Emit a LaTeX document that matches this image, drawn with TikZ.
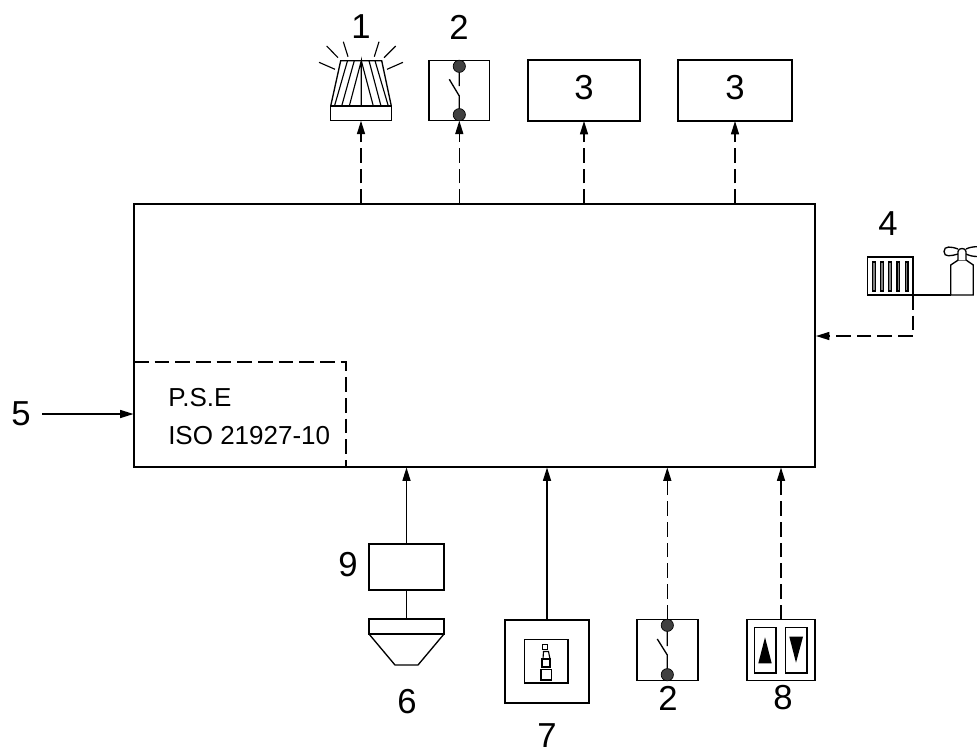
\documentclass[tikz,border=0pt]{standalone}
\usepackage{fontspec}
\setmainfont{Liberation Sans}
\usetikzlibrary{arrows.meta}
\tikzset{
  x=0.75pt,y=-0.75pt,
  line/.style={line width=1pt,line join=miter},
  thin line/.style={line width=0.85pt},
  dashline/.style={line width=1pt,dash pattern=on 11pt off 4.5pt},
  tip/.style={-{Triangle[length=10pt,width=6pt]}},
  box/.style={draw,line width=1pt,inner sep=0pt,outer sep=0pt,minimum width=#1},
  digit/.style={font=\fontsize{26}{26}\selectfont,inner sep=0pt},
  small/.style={font=\fontsize{19.5}{20}\selectfont,inner sep=0pt,anchor=base west},
  dot/.style={circle,fill=black!75,draw=black,line width=0.5pt,minimum size=9.2pt,inner sep=0pt,outer sep=0pt},
}
\begin{document}
\begin{tikzpicture}
\useasboundingbox (0,0) rectangle (977,754);
% main box
\node[box=510.75pt,line width=1.7pt,minimum height=197.25pt] (main) at (474.5,335.5) {};
\coordinate (psetop) at (134,362);
\coordinate (psecorner) at (346,362);
\coordinate (psebot) at (346,467);
\draw[dashline] (psetop) -- (psecorner) -- (psebot);
\node[small] (pse) at (168,406) {P.S.E};
\node[small] (iso) at (168,444) {ISO 21927-10};
% top icons
\node[box=45.5pt,minimum height=11pt] (beacon) at (361,113.4) {};
\draw[line] (330.7,106) -- (340.7,60.7) -- (381.7,60.7) -- (391.3,106);
\draw[thin line] (334.5,106) -- (347.5,60.7) (341.7,106) -- (354.3,60.7) (349.3,106) -- (361.3,60.7) -- (361.3,106)
  (373.3,106) -- (361.3,60.7) (381,106) -- (369,60.7) (388.3,106) -- (375,60.7);
\draw[thin line] (319,62.3) -- (335,69.3) (326.7,46) -- (338,57.7) (343.3,41.7) -- (348,56.7)
  (379,41.7) -- (374.3,56.7) (395.7,46) -- (384,57.7) (403,62.3) -- (387,69.3);
\node[box=45.5pt,minimum height=45pt] (sw1) at (459.3,90.7) {};
\node[dot] (sw1a) at (459.3,66.3) {};
\node[dot] (sw1b) at (459.3,114.7) {};
\draw[line] (sw1a) -- (459.3,86) (449.3,79.3) -- (459.3,96) -- (sw1b);
\node[box=84pt,minimum height=45.75pt] (r1) at (584,90.5) {};
\node[box=85.5pt,minimum height=45.75pt] (r2) at (735,90.5) {};
\node[digit] (n1) at (361,27) {1};
\node[digit] (n2) at (459,27) {2};
\node[digit] at (584,88) (n3a) {3};
\node[digit] at (735,88) (n3b) {3};
\coordinate (m1) at (361,204);
\coordinate (m2) at (459.3,204);
\coordinate (m3) at (584,204);
\coordinate (m4) at (735,204);
\draw[dashline,tip] (m1) -- (beacon.south);
\draw[dashline,tip] (m2) -- (sw1.south);
\draw[dashline,tip] (m3) -- (r1.south);
\draw[dashline,tip] (m4) -- (r2.south);
% right
\node[digit] (n4) at (888,224) {4};
\node[box=34.25pt,minimum height=28.5pt] (rad) at (890.2,276) {};
\foreach \x in {873.8,882,890.2,898.4,906.6}
  \draw[line width=0.8pt,fill=black!50] (\x-1.4,262) rectangle (\x+1.4,291);
\coordinate (radc) at (913,295);
\coordinate (turn) at (913,336);
\coordinate (mr) at (816,336);
\draw[line] (radc) -- (950.7,295);
\draw[line] (950.7,295) -- (950.7,265) -- (958.3,260) -- (966,260) -- (973.3,265) -- (973.3,295) -- cycle;
\draw[line] (958,249) .. controls (951,246.5) and (944,245.5) .. (944,251.5) .. controls (944,257.5) and (951,256) .. (958,254);
\draw[line] (966,249) .. controls (969,247.5) and (973,246.7) .. (977,246.7);
\draw[line] (966,254) .. controls (969,255.5) and (973,256.5) .. (977,256.5);
\draw[line,fill=white] (958,260) -- (958,251.5) .. controls (958,247.5) and (966,247.5) .. (966,251.5) -- (966,260);
\draw[dashline,tip] (radc) -- (turn) -- (mr);
% left
\node[digit] (n5) at (21,414) {5};
\coordinate (ml) at (133.5,414);
\coordinate (ls) at (42,414);
\draw[line,tip] (ls) -- (ml);
% bottom
\coordinate (b1) at (407,467.5);
\coordinate (b2) at (546,467.5);
\coordinate (b3) at (667.3,467.5);
\coordinate (b4) at (781,467.5);
\node[box=56.25pt,minimum height=34.5pt] (nine) at (406.5,567) {};
\node[digit] (n9) at (348,565) {9};
\node[box=56.25pt,minimum height=11.25pt] (head) at (406.5,626.5) {};
\draw[line] (369,634) -- (395,665) -- (418,665) -- (444,634);
\node[digit] (n6) at (407,702) {6};
\draw[line,tip] (nine.north) -- (nine.north |- b1);
\draw[line] (nine.south) -- (head.north);
\node[box=63pt,minimum height=62.25pt] (ctl) at (547,661.5) {};
\node[box=32.75pt,minimum height=32.5pt] (ctlin) at (546.2,661.3) {};
\draw[thin line] (542.5,644.5) rectangle (547.5,649.5);
\draw[thin line] (543,659) -- (543.5,651.5) -- (548.5,651.5) -- (550,659) -- cycle;
\draw[thin line] (542,659) rectangle (550,667);
\draw[thin line] (541,669.5) rectangle (551.5,680);
\node[digit] (n7) at (547,735.5) {7};
\draw[line,tip] (ctl.north) -- (ctl.north |- b2);
\node[box=45.75pt,minimum height=45.75pt] (sw2) at (667.5,649.7) {};
\node[dot] (sw2a) at (667.3,625.3) {};
\node[dot] (sw2b) at (667.3,674.7) {};
\draw[line] (sw2a) -- (667.3,646) (657.3,639) -- (667.3,655) -- (sw2b);
\node[digit] (n2b) at (668,698) {2};
\draw[dashline,tip] (sw2a) -- (b3);
\node[box=51pt,minimum height=45.75pt] (updn) at (781,649.7) {};
\node[box=16.25pt,minimum height=34pt] (up) at (765,650.2) {};
\node[box=16.25pt,minimum height=34pt] (dn) at (796,650.2) {};
\fill (765,637.3) -- (758.3,663.3) -- (771.7,663.3) -- cycle;
\fill (789.3,636.7) -- (803,636.7) -- (796,662.7) -- cycle;
\node[digit] (n8) at (783,698) {8};
\draw[dashline,tip] (updn.north) -- (b4);
\end{tikzpicture}
\end{document}
